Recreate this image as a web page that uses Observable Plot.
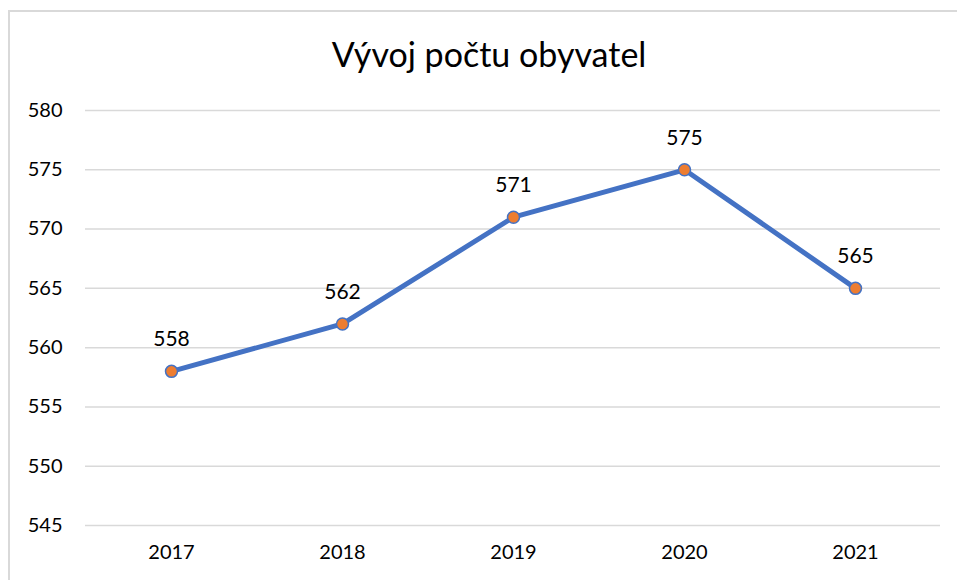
<!DOCTYPE html>
<html>
<head>
<meta charset="utf-8">
<script src="https://cdn.jsdelivr.net/npm/d3@7"></script>
<script src="https://cdn.jsdelivr.net/npm/@observablehq/plot@0.6"></script>
<style>
  html, body { margin: 0; padding: 0; background: #fff; }
  #wrap { position: relative; width: 957px; height: 580px; overflow: hidden; font-family: Lato, "Open Sans", sans-serif; }
  #frame { position: absolute; left: 8px; top: 10px; width: 2000px; height: 2000px; border: 2px solid #d9d9d9; box-sizing: border-box; }
  #title { position: absolute; left: 489px; top: 37px; transform: translateX(-50%); white-space: nowrap; font-size: 34px; line-height: 34px; color: #000; }
  #chart { position: absolute; left: 0; top: 0; }
</style>
</head>
<body>
<div id="wrap">
  <div id="frame"></div>
  <div id="title">Vývoj počtu obyvatel</div>
  <div id="chart"></div>
</div>
<script>
const years = ["2017", "2018", "2019", "2020", "2021"];
const population = [558, 562, 571, 575, 565];
const yTicks = [545, 550, 555, 560, 565, 570, 575, 580];

const data = years.map((y, i) => ({year: y, value: population[i]}));

const chart = Plot.plot({
  width: 957,
  height: 580,
  marginTop: 110,
  marginBottom: 55,
  marginLeft: 85,
  marginRight: 17,
  style: {background: "transparent", fontFamily: "Lato, 'Open Sans', sans-serif", fontSize: "20px", color: "#000"},
  x: {type: "point", domain: years, padding: 0.5, label: null},
  y: {domain: [545, 580], label: null},
  marks: [
    Plot.gridY(yTicks, {stroke: "#d9d9d9", strokeOpacity: 1, strokeWidth: 1.5}),
    Plot.axisY(yTicks, {tickSize: 0, tickPadding: 23, label: null, fontSize: 20, fill: "#000"}),
    Plot.axisX({tickSize: 0, tickPadding: 19, label: null, fontSize: 20, fill: "#000"}),
    Plot.line(data, {x: "year", y: "value", stroke: "#4472C4", strokeWidth: 5, strokeLinejoin: "round", strokeLinecap: "round"}),
    Plot.dot(data, {x: "year", y: "value", r: 6, fill: "#ED7D31", stroke: "#4472C4", strokeWidth: 1.5}),
    Plot.text(data, {x: "year", y: "value", text: d => String(d.value), dy: -32, fontSize: 21, fill: "#000"})
  ]
});
document.getElementById("chart").appendChild(chart);
</script>
</body>
</html>
